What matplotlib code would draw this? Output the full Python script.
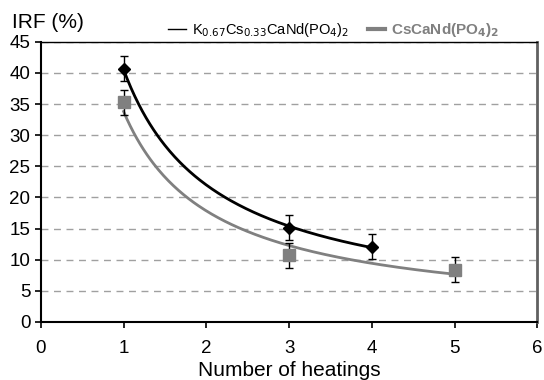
import numpy as np
import matplotlib.pyplot as plt

plt.rcParams['font.family'] = ['Liberation Sans', 'DejaVu Sans']

# nombre de chauffages et IRF mesurés
heat_k = [1, 3, 4]
irf_k = [40.7, 15.1, 12.1]
err_k = [2.0, 2.0, 2.0]

heat_cs = [1, 3, 5]
irf_cs = [35.3, 10.7, 8.4]
err_cs = [2.0, 2.0, 2.0]

label_k = r'K$_{0.67}$Cs$_{0.33}$CaNd(PO$_4$)$_2$'
label_cs = r'CsCaNd(PO$_\mathbf{4}$)$_\mathbf{2}$'


def power_fit(x, y):
    # tendance puissance y = a*x^b (moindres carrés en log)
    b, lna = np.polyfit(np.log(x), np.log(y), 1)
    xs = np.linspace(min(x), max(x), 200)
    return xs, np.exp(lna) * xs ** b


fig, ax = plt.subplots(figsize=(5.44, 3.80), dpi=100)
fig.subplots_adjust(left=0.075, right=0.988, top=0.89, bottom=0.153)

xs, ys = power_fit(heat_k, irf_k)
ax.plot(xs, ys, color='black', lw=2, zorder=3)
xs, ys = power_fit(heat_cs, irf_cs)
ax.plot(xs, ys, color='#808080', lw=2, zorder=3)

ax.errorbar(heat_k, irf_k, yerr=err_k, fmt='D', color='black', ms=6,
            ecolor='black', elinewidth=1, capsize=3, capthick=1, zorder=4)
ax.errorbar(heat_cs, irf_cs, yerr=err_cs, fmt='s', color='#808080', ms=8,
            ecolor='black', elinewidth=1, capsize=3, capthick=1, zorder=4)

ax.set_xlim(0, 6)
ax.set_ylim(0, 45)
ax.set_xticks(range(0, 7))
ax.set_yticks(range(0, 46, 5))
ax.tick_params(labelsize=13.5, direction='out', length=4, width=1.2, colors='black')
ax.tick_params(axis='x', pad=9)
ax.yaxis.grid(True, ls=(0, (5, 4)), color='#a0a0a0', lw=1)
ax.set_axisbelow(True)

for s in ['left', 'bottom']:
    ax.spines[s].set_linewidth(1.5)
ax.spines['top'].set_linewidth(1)
ax.spines['right'].set_color('#606060')
ax.spines['right'].set_linewidth(2)

ax.set_xlabel('Number of heatings', fontsize=15, labelpad=3)
fig.text(0.022, 0.925, 'IRF (%)', fontsize=15)

# légende au-dessus du graphique
h1, = ax.plot([], [], color='black', lw=1)
h2, = ax.plot([], [], color='#808080', lw=3)
leg = ax.legend([h1, h2], [label_k, label_cs], loc='lower center',
                bbox_to_anchor=(0.59, 0.985), ncol=2, frameon=False,
                fontsize=10.5, handlelength=1.2, handletextpad=0.4,
                columnspacing=1.3, borderaxespad=0.1)
texts = leg.get_texts()
texts[1].set_color('#808080')
texts[1].set_fontweight('bold')
texts[1].set_fontsize(11)

fig.savefig('out.png')
